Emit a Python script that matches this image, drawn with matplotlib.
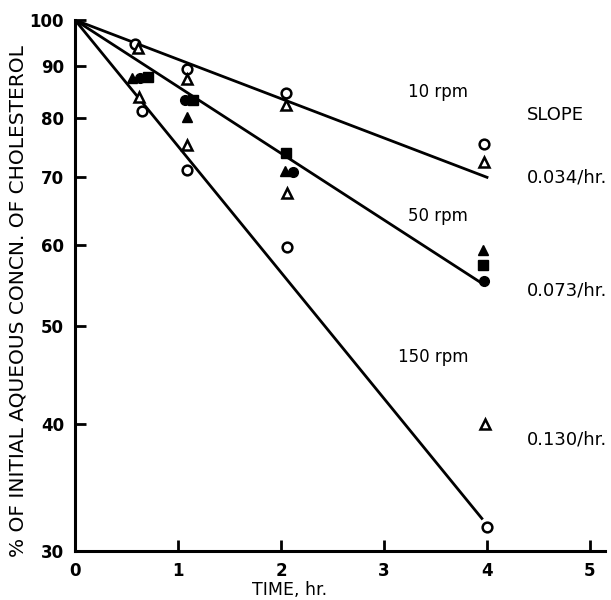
import numpy as np
import matplotlib
matplotlib.use("Agg")
import matplotlib.pyplot as plt

# cholesterol decay data
x10_circ = [0.58, 1.09, 2.05, 3.97]
y10_circ = [94.7, 89.5, 84.8, 75.5]
x10_tri = [0.61, 1.09, 2.05, 3.97]
y10_tri = [93.8, 87.5, 82.5, 72.4]

x50_tri = [0.55, 1.09, 2.04, 3.96]
y50_tri = [87.7, 80.3, 71.0, 59.3]
x50_circ = [0.63, 1.07, 2.12, 3.97]
y50_circ = [87.7, 83.4, 70.8, 55.3]
x50_sq = [0.71, 1.15, 2.05, 3.96]
y50_sq = [87.9, 83.4, 74.0, 57.4]

x150_tri = [0.62, 1.09, 2.06, 3.98]
y150_tri = [84.0, 75.3, 67.5, 40.0]
x150_circ = [0.65, 1.09, 2.06, 4.00]
y150_circ = [81.3, 71.2, 59.8, 31.7]

# fitted lines: start and end
line_x = {"10": [0, 4.00], "50": [0, 3.98], "150": [0, 3.95]}
line_y = {"10": [100, 70.0], "50": [100, 54.8], "150": [100, 32.3]}

slopes = ["0.034/hr.", "0.073/hr.", "0.130/hr."]
yticks = [30, 40, 50, 60, 70, 80, 90, 100]
xticks = [0, 1, 2, 3, 4, 5]

fig = plt.figure(figsize=(6.11, 6.0), dpi=100)
ax = fig.add_axes([75/611, 49/600, 530/611, 531/600])

for k in line_x:
    ax.plot(line_x[k], line_y[k], color="black", lw=2.0, zorder=2)

ms = 7
opn = dict(linestyle="none", mfc="white", mec="black", mew=1.8, ms=ms, zorder=3)
fil = dict(linestyle="none", color="black", ms=ms, zorder=3)
ax.plot(x10_circ, y10_circ, marker="o", **opn)
ax.plot(x10_tri, y10_tri, marker="^", **opn)
ax.plot(x150_circ, y150_circ, marker="o", **opn)
ax.plot(x150_tri, y150_tri, marker="^", **opn)
ax.plot(x50_tri, y50_tri, marker="^", **fil)
ax.plot(x50_circ, y50_circ, marker="o", **fil)
ax.plot(x50_sq, y50_sq, marker="s", **fil)

ax.set_yscale("log")
ax.set_ylim(30, 100)
ax.set_xlim(0, 530/103)
ax.set_yticks(yticks)
ax.set_yticklabels([str(v) for v in yticks])
ax.yaxis.set_minor_locator(matplotlib.ticker.NullLocator())
ax.set_xticks(xticks)
ax.set_xticklabels([str(v) for v in xticks])

for s in ["top", "right"]:
    ax.spines[s].set_visible(False)
for s in ["left", "bottom"]:
    ax.spines[s].set_linewidth(2.2)
ax.tick_params(direction="in", length=8, width=2, pad=8)
for lab in ax.get_xticklabels() + ax.get_yticklabels():
    lab.set_fontweight("bold")
    lab.set_fontsize(12)

fig.text(18/611, 1 - 301/600, "% OF INITIAL AQUEOUS CONCN. OF CHOLESTEROL",
         rotation=90, ha="center", va="center", fontsize=14.5)
fig.text(290/611, 1 - 590/600, "TIME, hr.", ha="center", va="center", fontsize=12.5)

tkw = dict(fontsize=13, va="center")
ax.text(3.52, 84.9, "10 rpm", ha="center", fontsize=12, va="center")
ax.text(3.52, 64.1, "50 rpm", ha="center", fontsize=12, va="center")
ax.text(3.48, 46.6, "150 rpm", ha="center", fontsize=12, va="center")
ax.text(4.66, 80.6, "SLOPE", ha="center", **tkw)
for s, yy in zip(slopes, [70.0, 54.2, 38.6]):
    ax.text(4.39, yy, s, ha="left", **tkw)

fig.savefig("out.png", dpi=100)
